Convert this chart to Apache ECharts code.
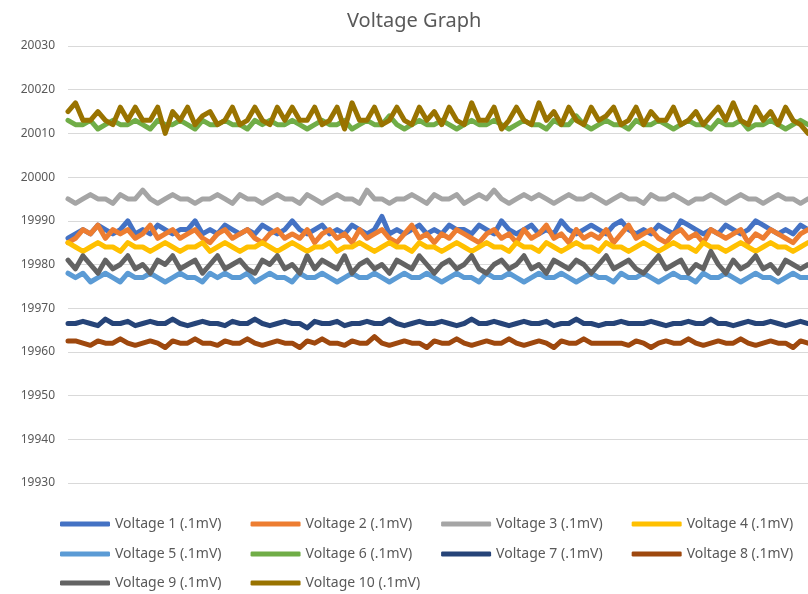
<!DOCTYPE html>
<html>
<head>
	<meta charset=utf-8>
	<title>Voltage Graph</title>
	<script src="https://cdn.jsdelivr.net/npm/echarts@6/dist/echarts.min.js"></script>
</head>
<body style="margin:0;">
<div id="main" style="width:808px;height:594px;"></div>
<script type="text/javascript">
	// samples along the x axis (no labels shown)
	var samples = [];
	for (var i = 1; i <= 100; i++) samples.push(i);

	var yTicks = [19930, 19940, 19950, 19960, 19970, 19980, 19990, 20000, 20010, 20020, 20030];

	var names = ['Voltage 1 (.1mV)', 'Voltage 2 (.1mV)', 'Voltage 3 (.1mV)', 'Voltage 4 (.1mV)', 'Voltage 5 (.1mV)',
		'Voltage 6 (.1mV)', 'Voltage 7 (.1mV)', 'Voltage 8 (.1mV)', 'Voltage 9 (.1mV)', 'Voltage 10 (.1mV)'];
	var colors = ['#4472C4', '#ED7D31', '#A5A5A5', '#FFC000', '#5B9BD5', '#70AD47', '#264478', '#9E480E', '#636363', '#997300'];

	var v1 = [19986, 19987, 19988, 19987, 19989, 19988, 19987, 19988, 19990, 19987,
		19988, 19987, 19989, 19988, 19987, 19988, 19988, 19990, 19987, 19988,
		19987, 19989, 19988, 19987, 19988, 19987, 19989, 19988, 19987, 19988,
		19990, 19988, 19987, 19988, 19989, 19987, 19988, 19987, 19989, 19988,
		19987, 19988, 19991, 19987, 19988, 19987, 19988, 19989, 19987, 19988,
		19987, 19989, 19988, 19988, 19987, 19989, 19988, 19987, 19990, 19988,
		19987, 19988, 19989, 19987, 19988, 19987, 19990, 19988, 19987, 19988,
		19989, 19988, 19987, 19989, 19990, 19988, 19987, 19988, 19987, 19989,
		19988, 19987, 19990, 19989, 19988, 19987, 19988, 19987, 19989, 19988,
		19987, 19988, 19990, 19989, 19988, 19987, 19988, 19987, 19989, 19988];
	var v2 = [19985, 19986, 19988, 19987, 19989, 19986, 19988, 19987, 19988, 19986,
		19987, 19989, 19986, 19987, 19988, 19986, 19987, 19988, 19986, 19985,
		19987, 19988, 19986, 19987, 19988, 19986, 19985, 19987, 19988, 19986,
		19987, 19986, 19988, 19985, 19987, 19988, 19986, 19987, 19985, 19988,
		19986, 19987, 19988, 19986, 19985, 19987, 19989, 19986, 19987, 19985,
		19987, 19986, 19988, 19987, 19986, 19985, 19987, 19988, 19986, 19987,
		19985, 19988, 19986, 19987, 19989, 19986, 19987, 19985, 19988, 19986,
		19987, 19986, 19988, 19985, 19987, 19989, 19986, 19987, 19988, 19986,
		19985, 19987, 19988, 19986, 19987, 19985, 19988, 19987, 19986, 19987,
		19988, 19985, 19987, 19986, 19988, 19987, 19986, 19985, 19987, 19988];
	var v3 = [19995, 19994, 19995, 19996, 19995, 19995, 19994, 19996, 19995, 19995,
		19997, 19995, 19994, 19995, 19996, 19995, 19995, 19994, 19995, 19995,
		19996, 19995, 19994, 19996, 19995, 19995, 19994, 19995, 19996, 19995,
		19995, 19994, 19996, 19995, 19994, 19995, 19996, 19995, 19995, 19994,
		19997, 19995, 19995, 19994, 19995, 19995, 19996, 19995, 19994, 19996,
		19995, 19995, 19996, 19994, 19995, 19996, 19995, 19997, 19995, 19994,
		19995, 19996, 19995, 19996, 19995, 19994, 19995, 19996, 19995, 19995,
		19996, 19995, 19994, 19995, 19996, 19995, 19995, 19994, 19996, 19995,
		19995, 19996, 19995, 19994, 19995, 19995, 19996, 19995, 19994, 19995,
		19996, 19995, 19995, 19994, 19995, 19996, 19995, 19995, 19994, 19995];
	var v4 = [19985, 19984, 19983, 19984, 19985, 19984, 19984, 19983, 19985, 19984,
		19984, 19983, 19984, 19985, 19984, 19983, 19984, 19984, 19985, 19983,
		19984, 19985, 19984, 19983, 19984, 19984, 19985, 19984, 19983, 19984,
		19985, 19984, 19983, 19984, 19984, 19985, 19983, 19984, 19984, 19985,
		19984, 19983, 19984, 19985, 19984, 19984, 19983, 19985, 19984, 19984,
		19983, 19984, 19985, 19984, 19983, 19984, 19985, 19984, 19984, 19983,
		19985, 19984, 19984, 19983, 19985, 19984, 19983, 19984, 19985, 19984,
		19984, 19983, 19985, 19984, 19984, 19983, 19984, 19985, 19984, 19983,
		19984, 19985, 19984, 19984, 19983, 19985, 19984, 19984, 19983, 19984,
		19985, 19984, 19983, 19984, 19985, 19984, 19984, 19983, 19984, 19985];
	var v5 = [19978, 19977, 19978, 19976, 19977, 19978, 19977, 19976, 19978, 19977,
		19977, 19978, 19977, 19976, 19977, 19978, 19977, 19977, 19976, 19978,
		19977, 19978, 19977, 19977, 19978, 19976, 19977, 19978, 19977, 19977,
		19976, 19978, 19977, 19977, 19978, 19977, 19976, 19977, 19978, 19977,
		19977, 19978, 19977, 19976, 19977, 19978, 19977, 19977, 19978, 19977,
		19976, 19977, 19978, 19977, 19977, 19976, 19978, 19977, 19977, 19978,
		19977, 19976, 19977, 19978, 19977, 19977, 19978, 19977, 19976, 19977,
		19978, 19977, 19977, 19976, 19978, 19977, 19977, 19978, 19977, 19976,
		19977, 19978, 19977, 19977, 19976, 19978, 19977, 19977, 19978, 19977,
		19976, 19977, 19978, 19977, 19977, 19976, 19977, 19978, 19977, 19977];
	var v6 = [20013, 20012, 20012, 20013, 20011, 20012, 20013, 20012, 20012, 20013,
		20012, 20011, 20013, 20012, 20012, 20013, 20012, 20011, 20013, 20012,
		20012, 20013, 20012, 20012, 20011, 20013, 20012, 20013, 20012, 20012,
		20013, 20012, 20011, 20012, 20013, 20012, 20012, 20013, 20011, 20012,
		20013, 20012, 20012, 20014, 20012, 20011, 20012, 20013, 20012, 20012,
		20013, 20012, 20011, 20012, 20013, 20012, 20012, 20013, 20012, 20011,
		20012, 20013, 20012, 20012, 20011, 20013, 20012, 20012, 20014, 20012,
		20011, 20012, 20013, 20012, 20012, 20011, 20013, 20012, 20012, 20013,
		20012, 20011, 20012, 20013, 20012, 20012, 20011, 20013, 20012, 20012,
		20013, 20011, 20012, 20012, 20013, 20012, 20011, 20012, 20013, 20012];
	var v7 = [19966.5, 19966.5, 19967, 19966.5, 19966, 19967.5, 19966.5, 19966.5, 19967, 19966,
		19966.5, 19967, 19966.5, 19966.5, 19967.5, 19966.5, 19966, 19966.5, 19967, 19966.5,
		19966.5, 19966, 19967, 19966.5, 19966.5, 19967.5, 19966.5, 19966, 19966.5, 19967,
		19966.5, 19966.5, 19965.5, 19967, 19966.5, 19966.5, 19967, 19966, 19966.5, 19966.5,
		19967, 19966.5, 19966.5, 19967.5, 19966.5, 19966, 19966.5, 19967, 19966.5, 19966.5,
		19967, 19966.5, 19966, 19966.5, 19967.5, 19966.5, 19966.5, 19967, 19966.5, 19966,
		19966.5, 19967, 19966.5, 19966.5, 19967, 19966, 19966.5, 19966.5, 19967.5, 19966.5,
		19966.5, 19966, 19966.5, 19966.5, 19967, 19966.5, 19966.5, 19966.5, 19967, 19966.5,
		19966, 19966.5, 19966.5, 19967, 19966.5, 19966.5, 19967.5, 19966.5, 19966.5, 19966,
		19966.5, 19967, 19966.5, 19966.5, 19967, 19966.5, 19966, 19966.5, 19967, 19966.5];
	var v8 = [19962.5, 19962.5, 19962, 19961.5, 19962.5, 19962, 19962, 19963, 19962, 19961.5,
		19962, 19962.5, 19962, 19961, 19962.5, 19962, 19962, 19963, 19962, 19962,
		19961.5, 19962.5, 19962, 19962, 19963, 19962, 19961.5, 19962, 19962.5, 19962,
		19962, 19961, 19962.5, 19962, 19963, 19962, 19962, 19961.5, 19962.5, 19962,
		19962, 19963.5, 19962, 19961.5, 19962, 19962.5, 19962, 19962, 19961, 19962.5,
		19962, 19962, 19963, 19962, 19961.5, 19962, 19962.5, 19962, 19962, 19963,
		19962, 19961.5, 19962, 19962.5, 19962, 19961, 19962.5, 19962, 19962, 19963,
		19962, 19962, 19962, 19962, 19962, 19961.5, 19962.5, 19962, 19961, 19962,
		19962.5, 19962, 19962, 19963, 19962, 19961.5, 19962, 19962.5, 19962, 19962,
		19963, 19962, 19961.5, 19962, 19962.5, 19962, 19962, 19961, 19962.5, 19962];
	var v9 = [19981, 19979, 19982, 19980, 19978, 19981, 19979, 19980, 19982, 19979,
		19980, 19978, 19981, 19980, 19982, 19979, 19980, 19981, 19978, 19980,
		19982, 19979, 19980, 19981, 19979, 19978, 19981, 19980, 19982, 19979,
		19980, 19978, 19982, 19979, 19981, 19980, 19979, 19982, 19978, 19980,
		19981, 19979, 19980, 19978, 19981, 19980, 19979, 19982, 19980, 19978,
		19980, 19981, 19979, 19980, 19982, 19979, 19978, 19980, 19981, 19979,
		19980, 19982, 19979, 19980, 19978, 19981, 19980, 19979, 19981, 19980,
		19978, 19980, 19982, 19979, 19980, 19981, 19979, 19978, 19980, 19982,
		19979, 19980, 19981, 19978, 19980, 19979, 19983, 19980, 19978, 19981,
		19979, 19980, 19982, 19979, 19980, 19978, 19981, 19980, 19979, 19980];
	var v10 = [20015, 20017, 20013, 20013, 20015, 20013, 20012, 20016, 20013, 20016,
		20013, 20013, 20016, 20010, 20015, 20013, 20016, 20012, 20014, 20015,
		20012, 20013, 20016, 20012, 20013, 20016, 20013, 20012, 20016, 20013,
		20016, 20013, 20013, 20016, 20012, 20013, 20016, 20011, 20017, 20013,
		20013, 20016, 20012, 20013, 20016, 20013, 20012, 20016, 20013, 20015,
		20012, 20016, 20013, 20012, 20017, 20013, 20013, 20016, 20011, 20013,
		20016, 20013, 20012, 20017, 20013, 20015, 20012, 20016, 20013, 20012,
		20016, 20013, 20014, 20016, 20012, 20013, 20016, 20012, 20015, 20013,
		20013, 20016, 20012, 20013, 20015, 20012, 20014, 20016, 20013, 20017,
		20013, 20012, 20016, 20013, 20015, 20012, 20016, 20013, 20012, 20010];

	var allData = [v1, v2, v3, v4, v5, v6, v7, v8, v9, v10];

	var series = [];
	for (var s = 0; s < allData.length; s++) {
		series.push({
			name: names[s],
			type: 'line',
			data: allData[s],
			showSymbol: false,
			animation: false,
			lineStyle: { width: 5, color: colors[s], cap: 'round', join: 'round' },
			itemStyle: { color: colors[s] }
		});
	}

	var legendText = { color: '#595959', fontSize: 14, fontFamily: 'Noto Sans' };
	function legendRow(list, top) {
		return {
			data: list, left: 55, top: top, orient: 'horizontal',
			icon: 'roundRect', itemWidth: 50, itemHeight: 5, itemGap: 29,
			textStyle: legendText
		};
	}

	var myChart = echarts.init(document.getElementById('main'));
	myChart.setOption({
		color: colors,
		title: {
			text: 'Voltage Graph',
			left: 342, top: 6,
			textStyle: { color: '#595959', fontSize: 20, fontWeight: 'normal', fontFamily: 'Noto Sans' }
		},
		legend: [
			legendRow(names.slice(0, 4), 512),
			legendRow(names.slice(4, 8), 542),
			legendRow(names.slice(8, 10), 571)
		],
		grid: { left: 68, right: 0, top: 46, bottom: 111 },
		xAxis: {
			type: 'category',
			data: samples,
			boundaryGap: false,
			axisLine: { show: false },
			axisTick: { show: false },
			axisLabel: { show: false }
		},
		yAxis: {
			type: 'value',
			min: yTicks[0],
			max: yTicks[yTicks.length - 1],
			interval: 10,
			axisLine: { show: false },
			axisTick: { show: false },
			axisLabel: {
				color: '#595959', fontSize: 12, fontFamily: 'Noto Sans', margin: 13,
				formatter: function (v) { return String(v); }
			},
			splitLine: { lineStyle: { color: '#d9d9d9', width: 1 } }
		},
		series: series
	});
</script>
</body>
</html>
